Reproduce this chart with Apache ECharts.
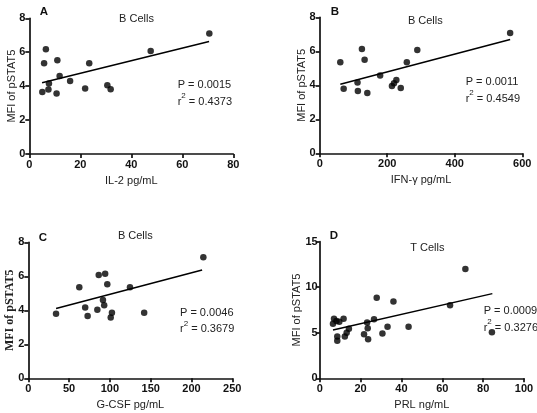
<!DOCTYPE html>
<html>
<head>
<meta charset="utf-8">
<script src="https://cdn.jsdelivr.net/npm/echarts@6/dist/echarts.min.js"></script>
<style>
html,body{margin:0;padding:0;background:#fff;}
#c{width:537px;height:413px;}
</style>
</head>
<body>
<div id="c"></div>
<script>
// ---- data ----
const pointsA = [[70.6,7.1],[47.6,6.07],[6.5,6.17],[5.8,5.35],[11.0,5.52],[23.5,5.35],[11.9,4.6],[7.7,4.16],[16.0,4.3],[5.1,3.66],[7.5,3.8],[10.7,3.56],[21.9,3.86],[30.6,4.06],[31.9,3.82]];
const fitA = [[5,4.2],[70.5,6.63]];
const pointsB = [[564,7.08],[289,6.08],[258,5.35],[61,5.35],[125,6.14],[133,5.51],[179,4.57],[112,4.16],[71,3.8],[113,3.67],[141,3.55],[227,4.31],[220,4.12],[214,3.96],[240,3.84]];
const fitB = [[61,4.06],[564,6.7]];
const pointsC = [[214.5,7.12],[34,3.8],[62.5,5.35],[86.3,6.08],[94.2,6.15],[96.8,5.53],[124.6,5.35],[91.5,4.6],[93,4.3],[69.7,4.17],[84.6,4.03],[72.7,3.66],[101,3.57],[102.5,3.86],[142,3.85]];
const fitC = [[34,4.1],[213,6.37]];
const pointsD = [[71.3,12.0],[63.8,8.02],[27.9,8.85],[36.1,8.42],[84.3,5.05],[26.6,6.48],[23.2,6.12],[23.5,5.49],[33.2,5.67],[43.5,5.67],[30.7,4.92],[21.7,4.84],[23.7,4.3],[7.0,6.55],[6.5,5.98],[8.2,6.3],[9.6,6.2],[11.7,6.55],[14.3,5.45],[13.2,5.0],[12.3,4.6],[8.6,4.6],[8.6,4.12]];
const fitD = [[6.5,5.3],[84.5,9.3]];
const xNames = ['IL-2 pg/mL','IFN-\u03b3 pg/mL','G-CSF pg/mL','PRL ng/mL'];
const yName = 'MFI of pSTAT5';
const panelLetters = ['A','B','C','D'];
const panelTitles = ['B Cells','B Cells','B Cells','T Cells'];
const pValues = ['0.0015','0.0011','0.0046','0.0009'];
const r2Values = ['0.4373','0.4549','0.3679','0.3276'];
const xMax = [80,600,250,100];
const xStep = [20,200,50,20];
const yMax = [8,8,8,15];
const yStep = [2,2,2,5];

// ---- layout ----
const grids = [
  {left:29.3, top:18.3, width:204, height:135.7},
  {left:319.7, top:17.3, width:202.6, height:136},
  {left:28.3, top:242.3, width:204, height:136},
  {left:319.7, top:241.7, width:204.3, height:136.6}
];
const yNameGap = [12,12,12,17];
const yLabelMargin = [4,4,4,2];
const letterPos = [[39,1],[330,1],[38,227],[329,225]];
const titlePos = [[131.5,8],[420.3,10],[130.3,225.5],[422.3,237]];
const statPos = [[172.7,81.7,98],[460.7,78.3,95],[175,309,325.5],[478.7,307.3,324]];

const ff = 'Liberation Sans, Arial, sans-serif';
const axisColor = '#111';
const titles = [];
for (let i=0;i<4;i++){
  titles.push({text:panelLetters[i], left:letterPos[i][0], top:letterPos[i][1], textAlign:'center',
    textStyle:{fontFamily:ff,fontSize:11.5,fontWeight:'bold',color:'#111'}});
  titles.push({text:panelTitles[i], left:titlePos[i][0], top:titlePos[i][1], textAlign:'center',
    textStyle:{fontFamily:ff,fontSize:11,fontWeight:'normal',color:'#222'}});
  titles.push({text:'P = '+pValues[i], left:statPos[i][0], top:statPos[i][1]-7,
    textStyle:{fontFamily:ff,fontSize:11,fontWeight:'normal',color:'#222'}});
  titles.push({text:'{r|r}{s|2}{r| = '+r2Values[i]+'}', left:statPos[i][0], top:statPos[i][2]-11,
    textStyle:{fontFamily:ff,fontSize:11,fontWeight:'normal',color:'#222',
      rich:{r:{fontFamily:ff,fontSize:11,color:'#222',lineHeight:15,verticalAlign:'bottom'},
            s:{fontFamily:ff,fontSize:8,color:'#222',lineHeight:15,verticalAlign:'top'}}}});
}

const xAxes = [], yAxes = [], series = [];
for (let i=0;i<4;i++){
  const serif = (i===2);
  xAxes.push({type:'value', gridIndex:i, min:0, max:xMax[i], interval:xStep[i],
    name:xNames[i], nameLocation:'middle', nameGap:21, nameMoveOverlap:false,
    nameTextStyle:{fontFamily:ff,fontSize:11,color:'#222'},
    axisLine:{show:true,onZero:false,lineStyle:{color:axisColor,width:1.7}},
    axisTick:{show:true,length:4,lineStyle:{color:axisColor,width:1.7}},
    axisLabel:{fontFamily:ff,fontSize:11,fontWeight:'bold',color:'#111',margin:5},
    splitLine:{show:false}});
  yAxes.push({type:'value', gridIndex:i, min:0, max:yMax[i], interval:yStep[i],
    name:yName, nameLocation:'middle', nameGap:yNameGap[i], nameRotate:90, nameMoveOverlap:false,
    nameTextStyle: serif ? {fontFamily:'Liberation Serif, Times New Roman, serif',fontSize:12,fontWeight:'bold',color:'#222'}
                         : {fontFamily:ff,fontSize:11,color:'#222'},
    axisLine:{show:true,onZero:false,lineStyle:{color:axisColor,width:1.7}},
    axisTick:{show:true,length:4,lineStyle:{color:axisColor,width:1.7}},
    axisLabel:{fontFamily:ff,fontSize:11,fontWeight:'bold',color:'#111',margin:yLabelMargin[i]},
    splitLine:{show:false}});
}
const pts = [pointsA,pointsB,pointsC,pointsD];
const fits = [fitA,fitB,fitC,fitD];
for (let i=0;i<4;i++){
  series.push({type:'scatter', xAxisIndex:i, yAxisIndex:i, data:pts[i], symbolSize:6.5,
    itemStyle:{color:'#000'}, silent:true, animation:false});
  series.push({type:'line', xAxisIndex:i, yAxisIndex:i, data:fits[i], symbol:'none',
    lineStyle:{color:'#000',width:1.5}, silent:true, animation:false});
}

const chart = echarts.init(document.getElementById('c'), null, {renderer:'canvas'});
chart.setOption({
  backgroundColor:'#fff',
  animation:false,
  title:titles,
  grid:grids.map(g=>Object.assign({containLabel:false},g)),
  xAxis:xAxes,
  yAxis:yAxes,
  series:series
});
</script>
</body>
</html>
